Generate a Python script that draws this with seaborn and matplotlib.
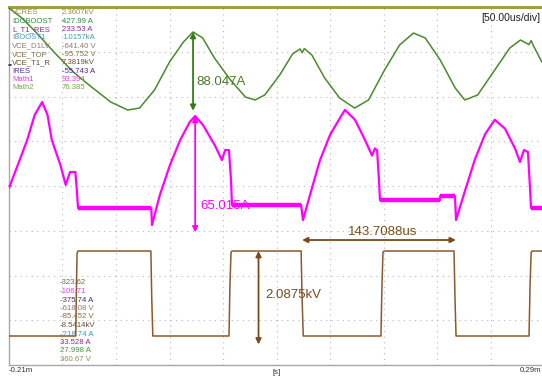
import numpy as np
import pandas as pd
import matplotlib
matplotlib.use("Agg")
import matplotlib.pyplot as plt
import seaborn as sns

sns.set_theme(style="white")
plt.rcParams["font.family"] = ["Liberation Sans", "DejaVu Sans"]

# ---- time base: 50 us/div, 10 divisions, -210 us .. 290 us ----
T_START, T_END = -210.0, 290.0

# ---- channel scales (units per division) and screen offsets (div) ----
GREEN_SCALE, GREEN_OFF = 50.0, 4.0      # A/div
MAG_SCALE, MAG_OFF = 25.0, 3.0          # A/div
BROWN_SCALE, BROWN_OFF = 1.0, 0.5       # kV/div

# ---- green current trace (us, A) ----
green_t = [-210, -198, -185, -168, -150, -134, -115, -99, -88, -74, -60, -47,
           -38, -29, -18, -3, 11, 20, 29, 43, 55, 62, 64, 66, 73, 85, 99, 113,
           126, 141, 155, 168, 179, 193, 207, 216, 228, 244, 258, 268, 276,
           278, 280, 288]
green_a = [198.8, 187.7, 172.1, 149.7, 127.4, 111.7, 93.9, 84.9, 87.1, 107.3,
           138.5, 160.9, 172.1, 165.4, 143.0, 118.4, 99.4, 96.1, 101.7, 124.0,
           147.5, 153.1, 149.0, 153.5, 146.4, 120.7, 98.3, 87.1, 96.1, 129.6,
           157.5, 170.9, 165.4, 140.8, 109.5, 96.1, 101.7, 129.6, 154.2, 163.1,
           158.0, 162.5, 157.0, 138.5]

# ---- magenta current humps (us, A) ----
mag_t = [-210, -200, -193, -186, -179, -174, -170, -162, -157, -153, -148,
         -146.5, -145.5, -77, -76.4, -69, -59.5, -50, -41, -36, -28.7, -17.5,
         -11, -8, -4.4, -2.5, -1.6, 63, 64.8, 71.3, 80.7, 90, 99.3, 104, 113.4,
         122.7, 129.3, 132, 134, 135.8, 136.7, 192.8, 193, 206.8, 207.8, 216,
         225.5, 235, 244, 253.6, 262.9, 267.6, 271.3, 275, 276.9, 277.9, 288.2]
mag_a = [23.9, 39.5, 50.7, 64.7, 71.9, 64.7, 50.7, 36.8, 25.6, 32.8, 32.8,
         22.0, 12.7, 12.7, 3.2, 20.0, 36.8, 50.7, 60.8, 64.1, 59.1, 47.6,
         39.5, 45.1, 45.1, 28.0, 14.4, 14.4, 6.0, 20.0, 39.5, 53.5, 63.0, 67.5,
         62.0, 50.7, 42.0, 46.0, 45.0, 28.0, 17.1, 17.1, 19.4, 19.4, 6.0, 22.0,
         40.0, 54.0, 62.0, 57.0, 46.0, 38.4, 45.1, 44.0, 24.0, 12.7, 12.7]
# noisy flat stretches of the magenta trace (start us, end us, A)
mag_flat_t0 = [-145.5, -1.6, 136.7, 193, 277.9]
mag_flat_t1 = [-77, 63, 192.8, 206.8, 288.2]
mag_flat_a = [12.7, 14.4, 17.1, 19.4, 12.7]

# ---- brown switch voltage (us, kV) ----
brown_t = [-210, -147.6, -147, -146.4, -145.5, -77.4, -76.6, -75.6, -4.4, -3.5,
           -2.5, -1.6, 63.0, 63.9, 65.0, 137.6, 138.6, 139.5, 140.5, 205.9,
           206.8, 207.8, 276, 277, 278, 279, 288.2]
brown_kv = [0.148, 0.148, 1.2, 2.0, 2.047, 2.047, 1.0, 0.148, 0.148, 1.3, 2.02,
            2.047, 2.047, 1.0, 0.148, 0.148, 1.3, 2.02, 2.047, 2.047, 1.0,
            0.148, 0.148, 1.3, 2.02, 2.047, 2.047]

# ---- cursor measurements ----
green_peak_t, green_peak_a, green_delta = -38.0, 172.1, 88.047
mag_peak_t, mag_peak_a, mag_delta = -36.0, 64.1, 65.015
brown_cursor_t, brown_high_kv, brown_delta = 23.2, 2.047, 2.0875
period_start_t, period_us, period_level_kv = 63.9, 143.7088, 2.293

# ---- channel readouts ----
names = ["VCRES", "IDCBOOST", "L_T1_RES", "IBOOST1", "VCE_D1LV", "VCE_TOP",
         "VCE_T1_R", "IRES", "Math1", "Math2"]
top_values = ["2.3607kV", "427.99 A", "233.53 A", "1.0157kA", "-641.40 V",
              "-95.752 V", "7.3819kV", "-55.743 A", "93.394", "76.385"]
name_colors = ["#a08c48", "#2f8a3a", "#8a2a9a", "#4a9ab8", "#8a7c6c",
               "#8a6a48", "#6a4c30", "#4a2a8a", "#e040e0", "#7aa050"]
bottom_values = ["-323.62", "-106.71", "-375.74 A", "-618.08 V", "-85.452 V",
                 "-8.5414kV", "-218.74 A", "33.528 A", "27.998 A", "360.67 V"]
bottom_colors = ["#5a7a3a", "#e040e0", "#4a2a7a", "#8a7c6c", "#8a6a48",
                 "#6a4c30", "#3a9aa8", "#8a2a9a", "#3a9a3a", "#a08c48"]

GREEN = "#4a8a2a"
MAGENTA = "#ff00ff"
BROWN = "#8a5a2a"
ARROW_BROWN = "#7a4a1c"
OLIVE = "#a0a040"

W, H = 542, 379
fig = plt.figure(figsize=(W / 100, H / 100), dpi=100)
fig.patch.set_facecolor("white")
L, R, TOP, BOT = 9, 544, 7, 365
ax = fig.add_axes([L / W, 1 - BOT / H, (R - L) / W, (BOT - TOP) / H])
ax.set_xlim(T_START, T_END)
ax.set_ylim(0, 8)
ax.set_facecolor("white")


def gdiv(v):
    return np.asarray(v) / GREEN_SCALE + GREEN_OFF


def mdiv(v):
    return np.asarray(v) / MAG_SCALE + MAG_OFF


def bdiv(v):
    return np.asarray(v) / BROWN_SCALE + BROWN_OFF


# dotted graticule
for xv in np.arange(T_START + 50, T_END, 50):
    ax.axvline(xv, color="#b8b8b8", lw=0.8, ls=(0, (1, 4)), zorder=0)
for yv in range(1, 8):
    ax.axhline(yv, color="#b8b8b8", lw=0.8, ls=(0, (1, 4)), zorder=0)

# traces
sns.lineplot(x=brown_t, y=bdiv(brown_kv), ax=ax, color=BROWN, lw=1.1,
             estimator=None, sort=False, zorder=3)
sns.lineplot(x=green_t, y=gdiv(green_a), ax=ax, color=GREEN, lw=1.1,
             estimator=None, sort=False, zorder=3)
sns.lineplot(x=mag_t, y=mdiv(mag_a), ax=ax, color=MAGENTA, lw=1.6,
             estimator=None, sort=False, zorder=4)
for t0, t1, a in zip(mag_flat_t0, mag_flat_t1, mag_flat_a):
    ax.plot([t0, t1], mdiv([a, a]), color=MAGENTA, lw=3.2, zorder=4,
            solid_capstyle="butt")

# cursor arrows
arrow = dict(arrowstyle="<|-|>", mutation_scale=8, shrinkA=0, shrinkB=0)
ax.annotate("", xy=(green_peak_t, gdiv(green_peak_a)),
            xytext=(green_peak_t, gdiv(green_peak_a - green_delta)),
            arrowprops=dict(arrow, color="#3a7a1c", lw=1.3), zorder=6)
ax.text(green_peak_t + 3, gdiv(116.0), f"{green_delta:.3f}A", color="#4a7a2a",
        fontsize=9.5, va="center", ha="left", zorder=7)

ax.annotate("", xy=(mag_peak_t, mdiv(mag_peak_a)),
            xytext=(mag_peak_t, mdiv(mag_peak_a - mag_delta)),
            arrowprops=dict(arrow, color=MAGENTA, lw=1.3), zorder=6)
ax.text(mag_peak_t + 4.5, mdiv(13.7), f"{mag_delta:.3f}A", color=MAGENTA,
        fontsize=9.5, va="center", ha="left", zorder=7)

ax.annotate("", xy=(brown_cursor_t, bdiv(brown_high_kv)),
            xytext=(brown_cursor_t, bdiv(brown_high_kv - brown_delta)),
            arrowprops=dict(arrow, color=ARROW_BROWN, lw=1.3), zorder=6)
ax.text(brown_cursor_t + 6, bdiv(1.064), f"{brown_delta:.4f}kV",
        color=ARROW_BROWN, fontsize=9.5, va="center", ha="left", zorder=7)

ax.annotate("", xy=(period_start_t, bdiv(period_level_kv)),
            xytext=(period_start_t + period_us, bdiv(period_level_kv)),
            arrowprops=dict(arrow, color=ARROW_BROWN, lw=1.3), zorder=6)
ax.text(period_start_t + period_us / 2 + 3, bdiv(period_level_kv + 0.18),
        f"{period_us:.4f}us", color=ARROW_BROWN, fontsize=9.5, va="center",
        ha="center", zorder=7)

# channel ground markers on the left edge
ax.plot([T_START, T_START + 2], [gdiv(0) + 2.7] * 2, color="#303030", lw=1.2,
        clip_on=False, zorder=8)
ax.plot([T_START, T_START + 2], [mdiv(25)] * 2, color=MAGENTA, lw=1.2,
        clip_on=False, zorder=8)

# frame
ax.spines["right"].set_visible(False)
ax.spines["left"].set_color("#a8a8a8")
ax.spines["left"].set_linewidth(1.0)
ax.spines["bottom"].set_color("#a8a8a8")
ax.spines["bottom"].set_linewidth(1.0)
ax.spines["top"].set_color(OLIVE)
ax.spines["top"].set_linewidth(2.2)
ax.set_xticks([])
ax.set_yticks([])
ax.set_xlabel("")
ax.set_ylabel("")

# channel readouts
for i, (n, v, c) in enumerate(zip(names, top_values, name_colors)):
    y = 13 + i * 8.3
    fig.text(12 / W, 1 - y / H, n, color=c, fontsize=5.6, va="center", ha="left")
    fig.text(62 / W, 1 - y / H, v, color=c, fontsize=5.6, va="center", ha="left")
for i, (v, c) in enumerate(zip(bottom_values, bottom_colors)):
    y = 283 + i * 8.5
    fig.text(60 / W, 1 - y / H, v, color=c, fontsize=5.6, va="center", ha="left")

fig.text(540 / W, 1 - 18 / H, "[50.00us/div]", color="#202020", fontsize=7.5,
         va="center", ha="right")
fig.text(9 / W, 1 - 371 / H, "-0.21m", color="#303030", fontsize=5.6,
         va="center", ha="left")
fig.text(277 / W, 1 - 372 / H, "[s]", color="#303030", fontsize=5.6,
         va="center", ha="center")
fig.text(541 / W, 1 - 371 / H, "0.29m", color="#303030", fontsize=5.6,
         va="center", ha="right")

fig.savefig("out.png", dpi=100)
